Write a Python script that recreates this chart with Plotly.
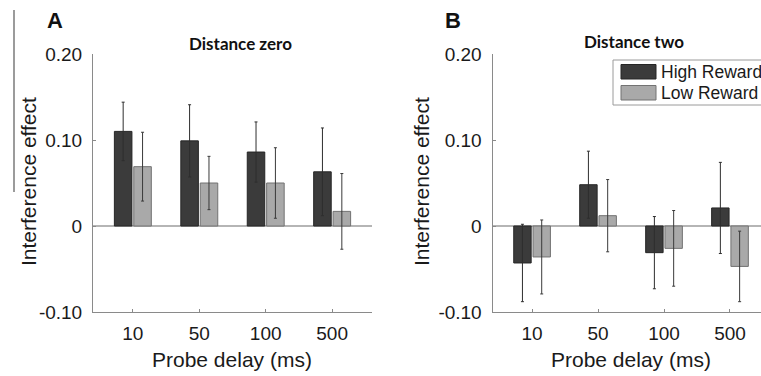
import plotly.graph_objects as go

# ---------------- data ----------------
delays = ["10", "50", "100", "500"]
positions = [1, 2, 3, 4]
y_tick_vals = [-0.10, 0.0, 0.10, 0.20]
y_tick_text = ["-0.10", "0", "0.10", "0.20"]

zero_high = [0.110, 0.099, 0.086, 0.063]
zero_high_err = [0.034, 0.042, 0.035, 0.051]
zero_low = [0.069, 0.050, 0.050, 0.017]
zero_low_err = [0.040, 0.031, 0.041, 0.044]

two_high = [-0.043, 0.048, -0.031, 0.021]
two_high_err = [0.045, 0.039, 0.042, 0.053]
two_low = [-0.036, 0.012, -0.026, -0.047]
two_low_err = [0.043, 0.042, 0.044, 0.041]

series_names = ["High Reward", "Low Reward"]

# ---------------- style ----------------
W, H = 761, 376
FONT = "Liberation Sans, Arial, sans-serif"
TFONT = "Lato, Open Sans, sans-serif"
DARK, DARK_LINE = "#3b3b3b", "#262626"
LIGHT, LIGHT_LINE = "#a9a9a9", "#727272"
AX = "#8a8a8a"
BAR_W = 0.264


def px(x):
    return x / W


def py(y):
    return 1 - y / H


fig = go.Figure()


def add_pair(high, high_err, low, low_err, xa, ya):
    fig.add_trace(go.Bar(
        x=positions, y=high, width=BAR_W, offset=-0.278,
        marker=dict(color=DARK, line=dict(color=DARK_LINE, width=1)),
        error_y=dict(type="data", array=high_err, color="#2e2e2e", thickness=1, width=1.5),
        name=series_names[0], showlegend=False, xaxis=xa, yaxis=ya))
    fig.add_trace(go.Bar(
        x=positions, y=low, width=BAR_W, offset=0.014,
        marker=dict(color=LIGHT, line=dict(color=LIGHT_LINE, width=1)),
        error_y=dict(type="data", array=low_err, color="#3a3a3a", thickness=1, width=1.5),
        name=series_names[1], showlegend=False, xaxis=xa, yaxis=ya))


add_pair(zero_high, zero_high_err, zero_low, zero_low_err, "x", "y")
add_pair(two_high, two_high_err, two_low, two_low_err, "x2", "y2")

y_dom = [py(312), py(54)]
common_x = dict(
    tickmode="array", tickvals=positions, ticktext=delays,
    showline=True, linecolor=AX, linewidth=1, ticks="inside", ticklen=3,
    tickcolor=AX, showgrid=False, zeroline=False, fixedrange=True,
    tickfont=dict(family=FONT, size=19, color="#1a1a1a"),
    ticklabelstandoff=4,
)
common_y = dict(
    range=[-0.1, 0.2], tickmode="array", tickvals=y_tick_vals, ticktext=y_tick_text,
    showline=True, linecolor=AX, linewidth=1, ticks="inside", ticklen=3,
    tickcolor=AX, showgrid=False, zeroline=True, zerolinecolor="#b5b5b5",
    zerolinewidth=2, domain=y_dom, fixedrange=True,
    tickfont=dict(family=FONT, size=19, color="#1a1a1a"),
    ticklabelstandoff=6,
)

fig.update_layout(
    width=W, height=H,
    margin=dict(l=0, r=0, t=0, b=0, autoexpand=False),
    paper_bgcolor="white", plot_bgcolor="white",
    barmode="overlay", showlegend=False,
    xaxis=dict(domain=[px(93), px(372)], range=[0.4, 4.6], anchor="y", **common_x),
    yaxis=dict(anchor="x", **common_y),
    xaxis2=dict(domain=[px(492.5), 1.0], range=[0.4, 4.47], anchor="y2", **common_x),
    yaxis2=dict(anchor="x2", **common_y),
)

ann = []
# panel letters
ann.append(dict(x=px(45), y=py(20), text="<b>A</b>", xanchor="left", yanchor="middle",
                font=dict(family=FONT, size=22, color="#111")))
ann.append(dict(x=px(443), y=py(20), text="<b>B</b>", xanchor="left", yanchor="middle",
                font=dict(family=FONT, size=22, color="#111")))
# titles
ann.append(dict(x=px(240), y=py(43), text="<b>Distance zero</b>", xanchor="center", yanchor="middle",
                font=dict(family=TFONT, size=17, color="#111")))
ann.append(dict(x=px(634), y=py(41), text="<b>Distance two</b>", xanchor="center", yanchor="middle",
                font=dict(family=TFONT, size=17, color="#111")))
# axis titles
for xc in (232, 631):
    ann.append(dict(x=px(xc), y=py(359), text="Probe delay (ms)", xanchor="center", yanchor="middle",
                    font=dict(family=FONT, size=21, color="#1a1a1a")))
for xc in (28, 421):
    ann.append(dict(x=px(xc), y=py(182), text="Interference effect", textangle=-90,
                    xanchor="center", yanchor="middle",
                    font=dict(family=FONT, size=21, color="#1a1a1a")))
# manual legend text
ann.append(dict(x=px(659), y=py(72), text=series_names[0], xanchor="left", yanchor="middle",
                font=dict(family=FONT, size=17.5, color="#1a1a1a")))
ann.append(dict(x=px(659), y=py(93), text=series_names[1], xanchor="left", yanchor="middle",
                font=dict(family=FONT, size=17.5, color="#1a1a1a")))
for a in ann:
    a.update(xref="paper", yref="paper", showarrow=False)
fig.update_layout(annotations=ann)

shapes = [
    # stray vertical rule at top-left
    dict(type="line", x0=px(14), x1=px(14), y0=py(10), y1=py(192),
         line=dict(color="#7a7a7a", width=1.5)),
    # legend box
    dict(type="rect", x0=px(613), x1=px(766), y0=py(105), y1=py(60),
         line=dict(color="#9a9a9a", width=1), fillcolor="white", layer="above"),
    dict(type="rect", x0=px(621), x1=px(656), y0=py(79), y1=py(64.5),
         line=dict(color=DARK_LINE, width=1), fillcolor=DARK, layer="above"),
    dict(type="rect", x0=px(621), x1=px(656), y0=py(100), y1=py(85.5),
         line=dict(color=LIGHT_LINE, width=1), fillcolor=LIGHT, layer="above"),
]
for s in shapes:
    s.update(xref="paper", yref="paper")
fig.update_layout(shapes=shapes)

fig.write_html(
    "out.html",
    config={"displayModeBar": False, "staticPlot": True},
    post_script="document.body.style.margin='0';document.body.style.overflow='hidden';",
)
